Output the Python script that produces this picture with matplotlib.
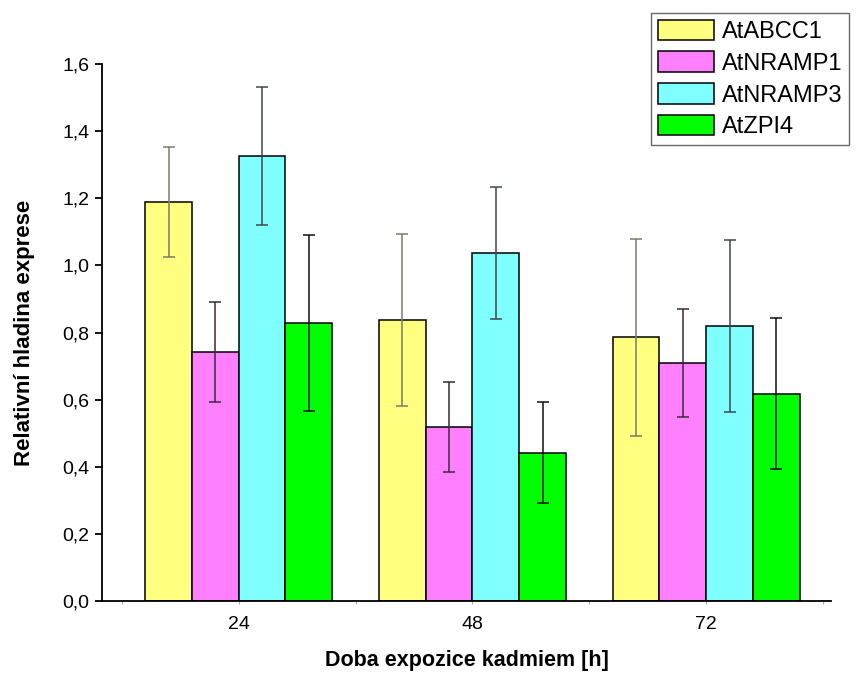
import matplotlib
matplotlib.use("Agg")
import matplotlib.pyplot as plt
import numpy as np

plt.rcParams['font.family'] = ['Liberation Sans', 'DejaVu Sans']

groups = ["24", "48", "72"]
series = ["AtABCC1", "AtNRAMP1", "AtNRAMP3", "AtZPI4"]
values = {
    "AtABCC1":  [1.190, 0.837, 0.786],
    "AtNRAMP1": [0.743, 0.518, 0.709],
    "AtNRAMP3": [1.326, 1.037, 0.819],
    "AtZPI4":   [0.829, 0.442, 0.618],
}
errors = {
    "AtABCC1":  [0.164, 0.256, 0.294],
    "AtNRAMP1": [0.149, 0.134, 0.161],
    "AtNRAMP3": [0.206, 0.198, 0.257],
    "AtZPI4":   [0.262, 0.151, 0.224],
}
colors = ["#FFFF80", "#FF80FF", "#80FFFF", "#00FF00"]
err_colors = ["#7a7a6a", "#3a2a3a", "#404848", "#101010"]

fig = plt.figure(figsize=(8.61, 6.74), dpi=100)
ax = fig.add_axes([102/861, 1-601/674, (831-102)/861, (601-64)/674])

x = np.arange(1, len(groups) + 1)
w = 0.2
for i, s in enumerate(series):
    pos = x + (i - 1.5) * w
    ax.bar(pos, values[s], width=w, color=colors[i], edgecolor="black",
           linewidth=1.1, label=s, zorder=2)
    ax.errorbar(pos, values[s], yerr=errors[s], fmt="none", ecolor=err_colors[i],
                elinewidth=1.1, capsize=4, capthick=1.1, zorder=3)

ax.set_xlim(0.415, 3.534)
ax.set_ylim(0, 1.6)
ax.set_yticks(np.arange(0, 1.61, 0.2))
ax.set_yticklabels([f"{v:.1f}".replace(".", ",") for v in np.arange(0, 1.61, 0.2)])
ax.set_xticks(x)
ax.set_xticklabels(groups)
ax.set_xticks([0.5, 1.5, 2.5, 3.5], minor=True)

for sp in ["top", "right"]:
    ax.spines[sp].set_visible(False)
for sp in ["left", "bottom"]:
    ax.spines[sp].set_linewidth(1.3)
    ax.spines[sp].set_zorder(4)

ax.tick_params(axis="y", direction="out", length=5, width=1.3, labelsize=14, pad=4)
ax.tick_params(axis="x", which="major", direction="out", length=2, width=0.8,
               color="#aaaaaa", labelsize=14, pad=9)
ax.tick_params(axis="x", which="minor", direction="out", length=2, width=0.8,
               color="#aaaaaa")

ax.set_xlabel("Doba expozice kadmiem [h]", fontsize=15.5, fontweight="bold", labelpad=12)
ax.set_ylabel("Relativní hladina exprese", fontsize=16, fontweight="bold", labelpad=20)

leg = fig.legend(loc="upper left", bbox_to_anchor=(651/861, 1-13/674),
                 fontsize=17, frameon=True, fancybox=False, edgecolor="#444444",
                 handlelength=2.4, handleheight=0.95, labelspacing=0.36,
                 handletextpad=0.33, borderpad=0.28, borderaxespad=0)
leg.get_frame().set_linewidth(1.0)

fig.savefig("out.png", dpi=100)
